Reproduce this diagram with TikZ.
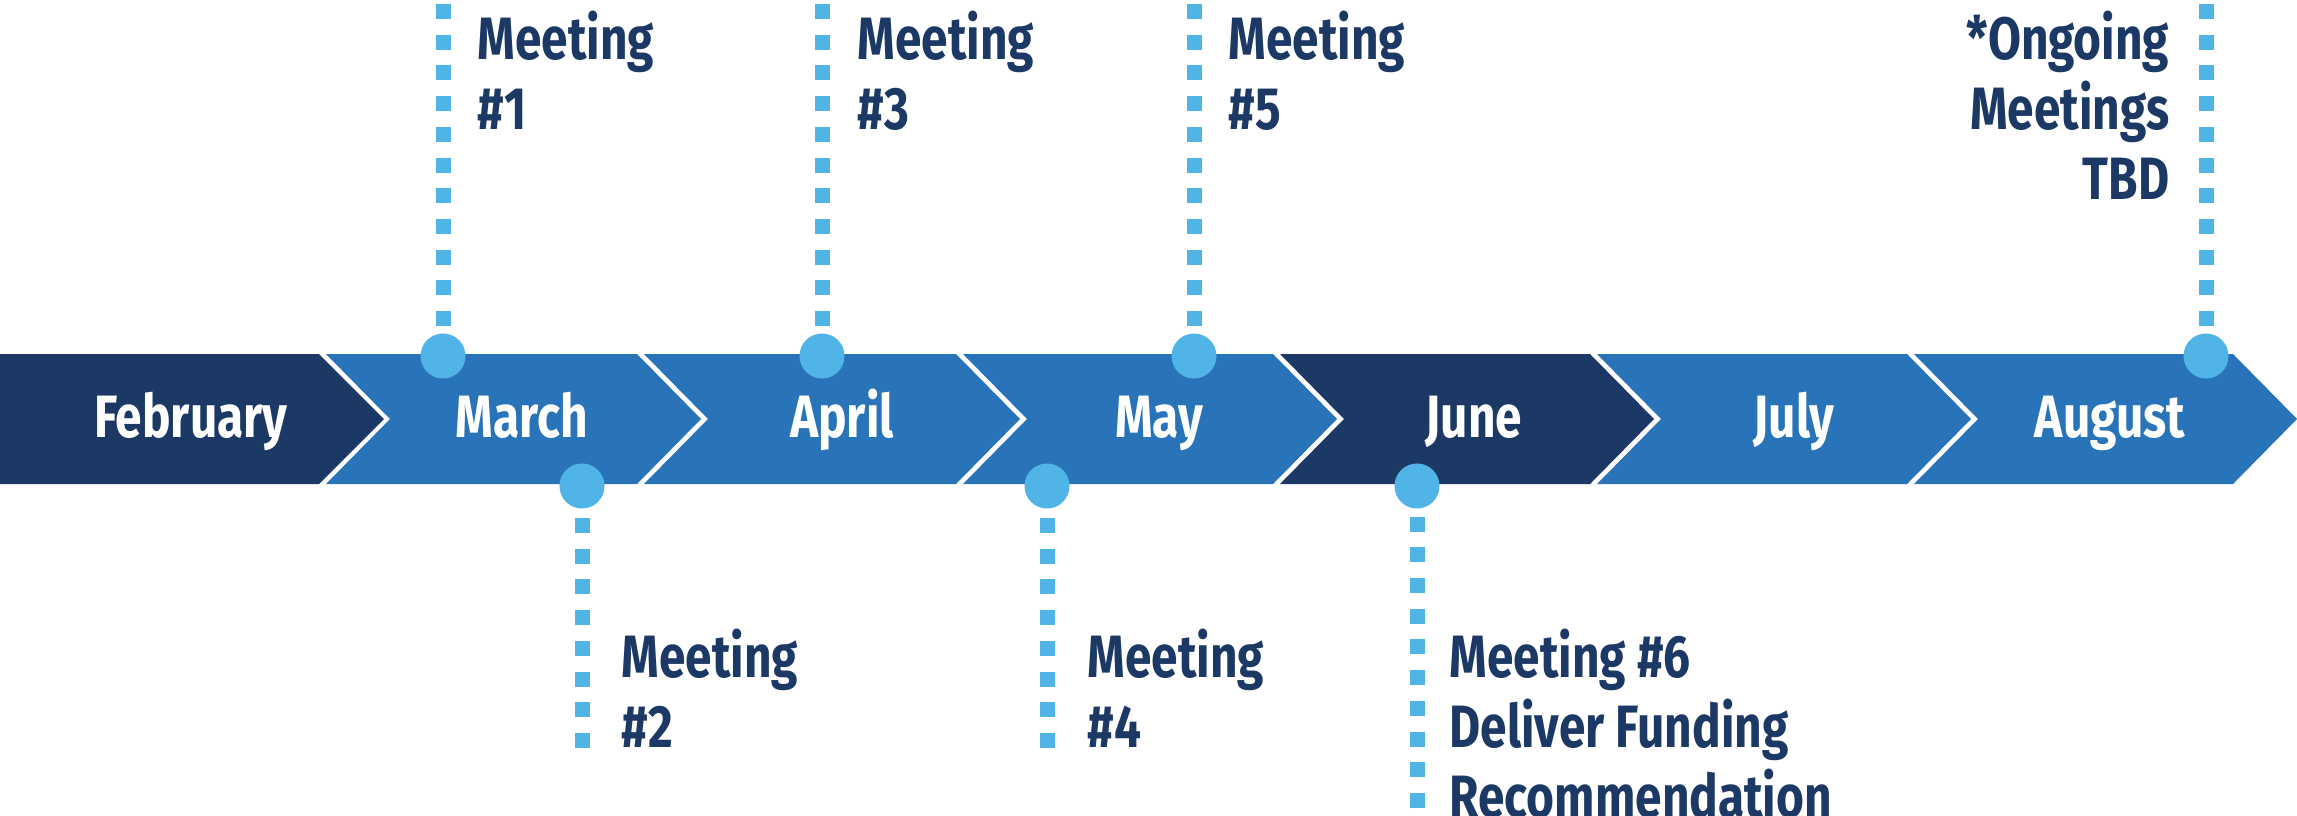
\documentclass[tikz,border=0pt]{standalone}
\usepackage{fontspec}
\setmainfont{Fira Sans}[FakeStretch=0.8]
\usetikzlibrary{calc}
\definecolor{navy}{RGB}{28, 57, 101}
\definecolor{midblue}{RGB}{41, 116, 184}
\definecolor{sky}{RGB}{81, 180, 230}
\newcommand{\tlfont}{\bfseries\fontsize{17}{19.9}\selectfont}

\begin{document}
\begin{tikzpicture}[x=0.01cm, y=-0.01cm,
  month/.style={font=\tlfont, text=white, anchor=base, inner sep=0pt},
  dot/.style={circle, fill=sky, inner sep=0pt, minimum size=0.45cm},
  dotline/.style={draw=sky, line width=0.15cm, dash pattern=on 0.15cm off 0.157cm},
  note/.style={font=\tlfont, text=navy, inner sep=0pt, align=left, anchor=north west}]

  \useasboundingbox (0, 0) rectangle (2297, 815);

  % the band of months
  \fill[navy] (0, 354) -- (319, 354) -- (384, 419) -- (319, 484) -- (0, 484) -- cycle;
  \foreach \L/\R/\col in {326/637/midblue, 644/956/midblue, 963/1273/midblue,
                          1280/1590/navy, 1597/1907/midblue, 1914/2233/midblue} {
    \fill[\col] (\L, 354) -- (\R, 354) -- ({\R+64}, 419) -- (\R, 484)
      -- (\L, 484) -- ({\L+64}, 419) -- cycle;
  }

  \node[month] (feb) at (191, 437) {February};
  \node[month] (mar) at (522, 437) {March};
  \node[month] (apr) at (842, 437) {April};
  \node[month] (may) at (1159, 437) {May};
  \node[month] (jun) at (1474, 437) {June};
  \node[month] (jul) at (1794, 437) {July};
  \node[month] (aug) at (2110, 437) {August};

  % meetings above
  \foreach \n/\x in {m1/443, m3/822, m5/1194, tbd/2206} {
    \node[dot] (\n) at (\x, 356) {};
    \coordinate (\n top) at (\x, 4);
    \draw[dotline] (\n top) -- (\n.north);
  }

  % meetings below
  \foreach \n/\x/\y in {m2/582/748, m4/1047/748, m6/1417/808} {
    \node[dot] (\n) at (\x, 486) {};
    \coordinate (\n end) at (\x, \y);
    \draw[dotline] (\n end) -- (\n.south);
  }

  \node[note] (t1) at (477, 10) {Meeting\\\#1};
  \node[note] (t3) at (857, 10) {Meeting\\\#3};
  \node[note] (t5) at (1228, 10) {Meeting\\\#5};
  \node[note, align=right, anchor=north east] (tt) at (2170, 10) {*Ongoing\\Meetings\\TBD};

  \node[note] (t2) at (621, 628) {Meeting\\\#2};
  \node[note] (t4) at (1087, 628) {Meeting\\\#4};
  \node[note] (t6) at (1449, 628) {Meeting \#6\\Deliver Funding\\Recommendation};

\end{tikzpicture}
\end{document}
